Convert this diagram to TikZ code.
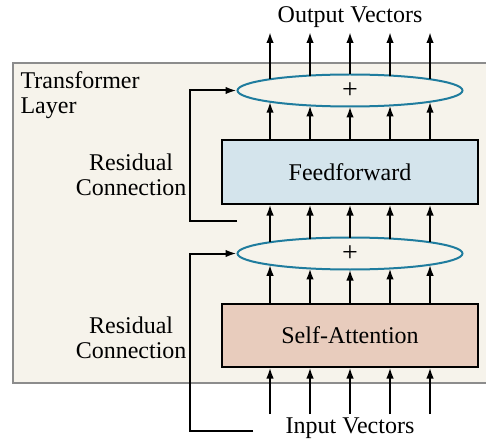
\documentclass[tikz,border=0pt]{standalone}
\usepackage{fontspec}
\setmainfont{Liberation Serif}
\usetikzlibrary{arrows.meta,positioning,shapes.geometric}
\definecolor{layerbg}{HTML}{F6F3EB}
\definecolor{layerline}{HTML}{8C8C8C}
\definecolor{ffcolor}{HTML}{D4E4EC}
\definecolor{sacolor}{HTML}{E8CCBD}
\definecolor{sumline}{HTML}{1F7C9E}

\begin{document}
\begin{tikzpicture}[
        x=1pt,y=1pt,
        font=\fontsize{24}{25}\selectfont,
        node distance=32pt and 31pt,
        box/.style={rectangle,draw,line width=2pt,minimum width=256pt,minimum height=63pt,align=center},
        sum/.style={ellipse,draw=sumline,line width=2pt,minimum width=225pt,minimum height=32pt,inner sep=0pt,font=\fontsize{28}{28}\selectfont},
        sidetext/.style={align=center,yshift=-3pt},
        arrow/.style={-{Latex[length=11pt,width=7.5pt]},line width=2pt}
    ]
        \useasboundingbox (0,0) rectangle (486,442);
        % layer frame
        \fill[layerbg] (13,59) rectangle (486,379);
        \draw[layerline,line width=2pt] (486,379) -| (13,59) -- (486,59);
        \node[anchor=north west,align=left] (layer) at (17,374) {Transformer\\Layer};

        \node[box,fill=sacolor] (sa) at (350,107) {Self-Attention};
        \node[sum, above=of sa] (sum1) {+};
        \node[box,fill=ffcolor, above=of sum1] (ff) {Feedforward};
        \node[sum, above=of ff] (sum2) {+};

        \node[sidetext, left=of sa] (res1) {Residual\\Connection};
        \node[sidetext, left=of ff] (res2) {Residual\\Connection};

        \node[anchor=base] (out) at (350,419) {Output Vectors};
        \node[anchor=base] (in) at (350,9) {Input Vectors};
        \coordinate (outrow) at (350,410);
        \coordinate (inrow) at (350,28);
        \coordinate (tap1) at (253,11);
        \coordinate (tap2) at (237,221);

        \foreach \dx in {-80,-40,0,40,80}{
            \pgfmathsetmacro\dy{16*sqrt(1-(\dx/112.5)^2)}
            \draw[arrow] ([xshift=\dx pt]inrow) -- ([xshift=\dx pt]sa.south);
            \draw[arrow] ([xshift=\dx pt]sa.north) -- ([xshift=\dx pt,yshift=-\dy pt]sum1.center);
            \draw[arrow] ([xshift=\dx pt,yshift=\dy pt]sum1.center) -- ([xshift=\dx pt]ff.south);
            \draw[arrow] ([xshift=\dx pt]ff.north) -- ([xshift=\dx pt,yshift=-\dy pt]sum2.center);
            \draw[arrow] ([xshift=\dx pt,yshift=\dy pt]sum2.center) -- ([xshift=\dx pt]outrow);
        }

        \draw[arrow] (tap1) -- ++(-63pt,0) |- (sum1.west);
        \draw[arrow] (tap2) -- ++(-47pt,0) |- (sum2.west);
    \end{tikzpicture}
\end{document}
